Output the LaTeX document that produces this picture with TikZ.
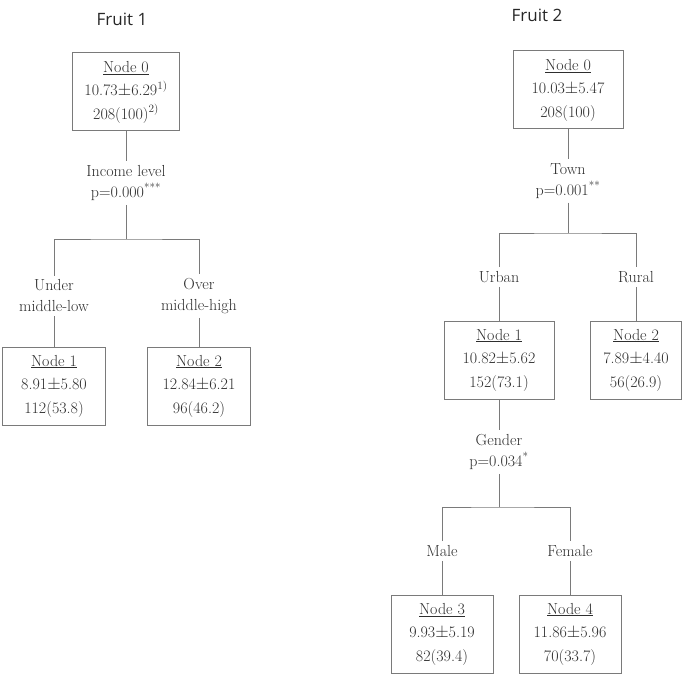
\documentclass[tikz,border=0pt]{standalone}
\usepackage{fontspec}
\newfontfamily\titlefont{Open Sans}
\definecolor{boxgray}{HTML}{7A7A7A}
\definecolor{textgray}{HTML}{2E2E2E}
\tikzset{
  treebox/.style={draw=boxgray, line width=1pt, minimum height=78pt, align=center,
    text=textgray, font=\fontsize{16}{23.5}\selectfont, inner sep=2pt},
  splitlabel/.style={align=center, text=textgray, font=\fontsize{16}{21}\selectfont, inner sep=4pt},
  treetitle/.style={text=black!85, font=\titlefont\fontsize{17}{20}\selectfont},
  branch/.style={draw=boxgray, line width=1pt},
}
\begin{document}
\begin{tikzpicture}[x=1pt, y=-1pt]
        \useasboundingbox (0,0) rectangle (684,679);

        % Fruit 1: titles, nodes and split labels
        \node[treetitle] (f1title) at (122,19) {Fruit 1};
        \node[treebox, minimum width=107pt] (f1n0) at (126,92)
            {\underline{Node 0}\\10.73$\pm$6.29\textsuperscript{1)}\\208(100)\textsuperscript{2)}};
        \node[splitlabel] (f1split) at (126,183) {Income level\\p=0.000\textsuperscript{***}};
        \coordinate (f1fork) at (126,239);
        \node[splitlabel] (f1lo) at (54,296) {Under\\middle-low};
        \node[splitlabel] (f1hi) at (199,296) {Over\\middle-high};
        \node[treebox, minimum width=103pt] (f1n1) at (54,386)
            {\underline{Node 1}\\8.91$\pm$5.80\\112(53.8)};
        \node[treebox, minimum width=103pt] (f1n2) at (199,386)
            {\underline{Node 2}\\12.84$\pm$6.21\\96(46.2)};

        % Fruit 2: titles, nodes and split labels
        \node[treetitle] (f2title) at (537,15) {Fruit 2};
        \node[treebox, minimum width=110pt] (f2n0) at (568,90)
            {\underline{Node 0}\\10.03$\pm$5.47\\208(100)};
        \node[splitlabel] (f2split) at (568,181) {Town\\p=0.001\textsuperscript{**}};
        \coordinate (f2fork) at (568,233);
        \node[splitlabel] (f2urb) at (499,277) {Urban};
        \node[splitlabel] (f2rur) at (636,277) {Rural};
        \node[treebox, minimum width=110pt] (f2n1) at (499,360)
            {\underline{Node 1}\\10.82$\pm$5.62\\152(73.1)};
        \node[treebox, minimum width=91pt] (f2n2) at (636,360)
            {\underline{Node 2}\\7.89$\pm$4.40\\56(26.9)};
        \node[splitlabel] (f2gen) at (499,452) {Gender\\p=0.034\textsuperscript{*}};
        \coordinate (f2subfork) at (499,507);
        \node[splitlabel] (f2male) at (442,551) {Male};
        \node[splitlabel] (f2fem) at (570,551) {Female};
        \node[treebox, minimum width=102pt] (f2n3) at (442,634)
            {\underline{Node 3}\\9.93$\pm$5.19\\82(39.4)};
        \node[treebox, minimum width=102pt] (f2n4) at (570,634)
            {\underline{Node 4}\\11.86$\pm$5.96\\70(33.7)};

        % Straight links from a box to its split label and from labels to boxes
        \foreach \a/\b in {f1n0/f1split, f1lo/f1n1, f1hi/f1n2, f2n0/f2split,
                           f2urb/f2n1, f2rur/f2n2, f2n1/f2gen, f2male/f2n3, f2fem/f2n4} {
            \draw[branch] (\a) -- (\b);
        }

        % Forks below each split
        \draw[branch] (f1split) -- (f1fork);
        \draw[branch] (f1lo) |- (f1fork) -| (f1hi);
        \draw[branch] (f2split) -- (f2fork);
        \draw[branch] (f2urb) |- (f2fork) -| (f2rur);
        \draw[branch] (f2gen) -- (f2subfork);
        \draw[branch] (f2male) |- (f2subfork) -| (f2fem);

    \end{tikzpicture}
\end{document}
